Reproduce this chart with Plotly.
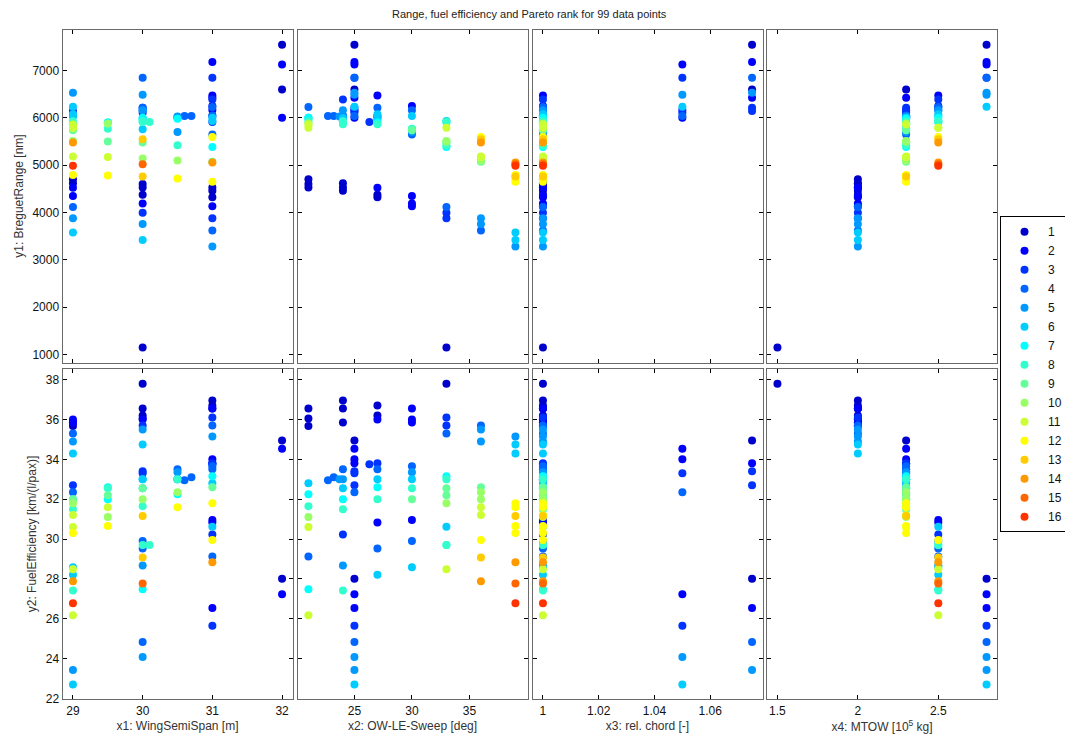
import plotly.graph_objects as go

TITLE = "Range, fuel efficiency and Pareto rank for 99 data points"
X_TITLES = ["x1: WingSemiSpan [m]", "x2: OW-LE-Sweep [deg]", "x3: rel. chord [-]",
            "x4: MTOW [10<sup>5</sup> kg]"]
Y_TITLES = ["y1: BreguetRange [nm]", "y2: FuelEfficiency [km/(l/pax)]"]
X_TICKS = [[29, 30, 31, 32], [25, 30, 35], [1, 1.02, 1.04, 1.06], [1.5, 2, 2.5]]
X_TICKTEXT = [["29", "30", "31", "32"], ["25", "30", "35"], ["1", "1.02", "1.04", "1.06"],
              ["1.5", "2", "2.5"]]
Y1_TICKS = [1000, 2000, 3000, 4000, 5000, 6000, 7000]
Y2_TICKS = [22, 24, 26, 28, 30, 32, 34, 36, 38]
RANKS = list(range(1, 17))
RANK_COLORS = ["#0000cc", "#0000ff", "#0033ff", "#0066ff", "#0099ff", "#00ccff",
               "#00ffff", "#33ffcc", "#66ff99", "#99ff66", "#ccff33", "#ffff00",
               "#ffcc00", "#ff9900", "#ff6600", "#ff3300"]

X2_LEVELS = [21, 24, 27, 30, 33, 36, 39]

# group A: single light design
A_X1, A_X2, A_X3, A_X4 = [30], [33], [1.0], [1.5]
A_Y1, A_Y2, A_RANK = [1147], [37.8], [1]

# group B: MTOW 2.0, rel. chord 1 ; rows = X2_LEVELS, cols = B_X1
B_X1 = [29, 30, 31]
B_Y1 = [[4700, 4600, 4530], [4620, 4530, 4460], [4520, 4375, 4320], [4350, 4190, 4130],
        [4115, 3996, 3877], [3877, 3758, 3617], [3575, 3420, 3280]]
B_Y2 = [[35.67, 36.05, 36.55], [35.85, 36.55, 36.95], [36.0, 36.2, 36.7], [35.85, 36.0, 36.55],
        [35.3, 35.7, 36.1], [34.9, 35.5, 35.7], [34.3, 34.75, 35.15]]
B_RANK = [[1, 1, 1], [1, 1, 1], [2, 1, 1], [2, 2, 2], [4, 3, 3], [5, 5, 4], [6, 6, 5]]

# groups C (MTOW 2.8) and D (MTOW 2.3): sweep 25, rel. chord > 1
CD_X1 = [32, 32, 31, 31, 30, 30, 29, 29]
CD_X3 = [1.075, 1.05, 1.075, 1.05, 1.075, 1.05, 1.075, 1.05]
C_Y1 = [7547, 7126, 7182, 6846, 6846, 6488, 6530, 6235]
C_Y2 = [28.0, 27.23, 26.53, 25.65, 24.83, 24.08, 23.42, 22.7]
C_RANK = [1, 2, 2, 3, 4, 5, 5, 6]
D_Y1 = [6600, 6004, 6425, 6165, 6214, 6109, 6144, 6039]
D_Y2 = [34.95, 34.53, 33.8, 34.0, 33.4, 33.3, 32.7, 32.35]
D_RANK = [1, 2, 2, 2, 3, 3, 3, 4]

# group E: MTOW 2.3, rel. chord 1 ; rows = X2_LEVELS, cols = E_X1
E_X1 = [29, 29.5, 30, 30.5, 31]
E_Y1 = [[5860, 5880, 5930, 5980, 6000], [5863, 5900, 5990, 6010, 6050],
        [5863, 5900, 5960, 6000, 6040], [5740, 5770, 5760, 5700, 5650],
        [5512, 5500, 5480, 5420, 5386], [5182, 5170, 5140, 5100, 5070],
        [4790, 4780, 4760, 4720, 4650]]
E_Y2 = [[30.6, 31.1, 31.65, 32.25, 32.8], [31.5, 32.0, 32.55, 33.0, 33.5],
        [32.0, 32.6, 33.0, 33.5, 33.8], [32.0, 32.55, 33.0, 33.35, 33.65],
        [31.8, 32.2, 32.55, 33.0, 33.15], [31.2, 31.6, 32.0, 32.35, 32.6],
        [30.3, 30.65, 31.15, 31.6, 31.8]]
E_RANK = [[11, 10, 8, 7, 6], [8, 7, 6, 5, 4], [8, 7, 6, 4, 3], [9, 8, 6, 5, 4],
          [10, 9, 9, 8, 7], [11, 11, 10, 10, 9], [12, 12, 13, 12, 12]]

# group F: MTOW 2.5, rel. chord 1 ; rows = X2_LEVELS, cols = F_X1
F_X1 = [29, 30, 31]
F_Y1 = [[5793, 6004, 6228], [5930, 6158, 6390], [6074, 6214, 6470], [6040, 6160, 6250],
        [5793, 5912, 5933], [5477, 5550, 5596], [4986, 5020, 5056]]
F_Y2 = [[26.17, 27.48, 29.12], [27.42, 28.67, 30.23], [28.2, 29.52, 30.83], [28.58, 29.9, 30.95],
        [28.48, 29.7, 30.62], [27.88, 29.07, 29.95], [26.78, 27.77, 28.83]]
F_RANK = [[11, 7, 4], [8, 5, 3], [6, 4, 2], [6, 4, 2], [11, 8, 6], [14, 13, 12], [16, 15, 14]]

# group G: off-grid designs
G_X1 = [30.1, 30.6, 30.7, 30.5, 31.0]
G_X2 = [33, 22.7, 23.2, 23.7, 26.3]
G_X3 = [1.0, 1.0, 1.0, 1.0, 1.0]
G_X4 = [2.5, 2.3, 2.3, 2.3, 2.3]
G_Y1 = [5912, 6040, 6040, 6030, 5912]
G_Y2 = [29.7, 32.95, 33.1, 33.0, 33.75]
G_RANK = [8, 4, 4, 5, 3]

# ---- assemble the 99 designs ----
x1, x2, x3, x4, y1, y2, rank = [], [], [], [], [], [], []


def add(a, b, c, d, e, f, r):
    x1.append(a); x2.append(b); x3.append(c); x4.append(d)
    y1.append(e); y2.append(f); rank.append(r)


for i in range(len(A_X1)):
    add(A_X1[i], A_X2[i], A_X3[i], A_X4[i], A_Y1[i], A_Y2[i], A_RANK[i])
for i, sw in enumerate(X2_LEVELS):
    for j, span in enumerate(B_X1):
        add(span, sw, 1.0, 2.0, B_Y1[i][j], B_Y2[i][j], B_RANK[i][j])
for i in range(len(CD_X1)):
    add(CD_X1[i], 25, CD_X3[i], 2.8, C_Y1[i], C_Y2[i], C_RANK[i])
for i in range(len(CD_X1)):
    add(CD_X1[i], 25, CD_X3[i], 2.3, D_Y1[i], D_Y2[i], D_RANK[i])
for i, sw in enumerate(X2_LEVELS):
    for j, span in enumerate(E_X1):
        add(span, sw, 1.0, 2.3, E_Y1[i][j], E_Y2[i][j], E_RANK[i][j])
for i, sw in enumerate(X2_LEVELS):
    for j, span in enumerate(F_X1):
        add(span, sw, 1.0, 2.5, F_Y1[i][j], F_Y2[i][j], F_RANK[i][j])
for i in range(len(G_X1)):
    add(G_X1[i], G_X2[i], G_X3[i], G_X4[i], G_Y1[i], G_Y2[i], G_RANK[i])

XS = [x1, x2, x3, x4]
YS = [y1, y2]
X_RANGES = [[28.85, 32.15], [20.05, 40.05], [0.99625, 1.07875], [1.435, 2.865]]
Y_RANGES = [[827, 7867], [21.95, 38.55]]

# page has an 8px body margin: the figure is drawn 8px right/down of the window corner
OFF = 8
W, H = 1073 - OFF, 744 - OFF
COL_PX = [(62.5, 292.5), (297.5, 527.5), (532.5, 762.5), (767.0, 997.0)]
ROW_PX = [(29.7, 365.5), (371.7, 705.0)]


def px_x(X):
    return (X - OFF) / W


def px_y(Y):
    return 1 - (Y - OFF) / H


FONT = "Liberation Sans, Arial, sans-serif"
fig = go.Figure()

for row in range(2):
    for col in range(4):
        k = row * 4 + col + 1
        xa = "x" if k == 1 else f"x{k}"
        ya = "y" if k == 1 else f"y{k}"
        for r, colr in zip(RANKS, RANK_COLORS):
            idx = [i for i in range(len(rank)) if rank[i] == r]
            fig.add_trace(go.Scatter(
                x=[XS[col][i] for i in idx], y=[YS[row][i] for i in idx],
                mode="markers", xaxis=xa, yaxis=ya,
                marker=dict(size=8, color=colr, line=dict(width=0)),
                name=str(r), legendgroup=str(r), showlegend=(k == 1),
                hoverinfo="skip"))
        xkey = "xaxis" if k == 1 else f"xaxis{k}"
        ykey = "yaxis" if k == 1 else f"yaxis{k}"
        xax = dict(
            domain=[px_x(COL_PX[col][0]), px_x(COL_PX[col][1])],
            range=X_RANGES[col], anchor=ya,
            tickvals=X_TICKS[col], ticktext=X_TICKTEXT[col],
            showticklabels=(row == 1), ticks="inside", ticklen=4, tickcolor="#000",
            showline=True, linecolor="#6a6a6a", linewidth=1, mirror="ticks",
            showgrid=False, zeroline=False,
            tickfont=dict(family=FONT, size=12, color="#111"))
        if row == 1:
            xax["title"] = dict(text=X_TITLES[col], standoff=4,
                                font=dict(family=FONT, size=12, color="#333"))
        yax = dict(
            domain=[px_y(ROW_PX[row][1]), px_y(ROW_PX[row][0])],
            range=Y_RANGES[row], anchor=xa,
            tickvals=Y1_TICKS if row == 0 else Y2_TICKS,
            showticklabels=(col == 0), ticks="inside", ticklen=4, tickcolor="#000",
            showline=True, linecolor="#6a6a6a", linewidth=1, mirror="ticks",
            showgrid=False, zeroline=False,
            tickfont=dict(family=FONT, size=12, color="#111"))
        if col == 0:
            yax["title"] = dict(text=Y_TITLES[row], standoff=6,
                                font=dict(family=FONT, size=12, color="#333"))
        fig.layout[xkey] = xax
        fig.layout[ykey] = yax

fig.add_annotation(text=TITLE, x=px_x(529.5), y=px_y(14), xref="paper", yref="paper",
                   showarrow=False, xanchor="center", yanchor="middle",
                   font=dict(family=FONT, size=11, color="#222"))

fig.update_layout(
    width=W, height=H, margin=dict(l=0, r=0, t=0, b=0),
    paper_bgcolor="white", plot_bgcolor="white",
    showlegend=True,
    legend=dict(x=px_x(1000), y=px_y(218), xanchor="left", yanchor="top",
                bordercolor="#000", borderwidth=1, bgcolor="white",
                tracegroupgap=0, itemwidth=37,
                font=dict(family=FONT, size=12, color="#111"),
                itemclick=False, itemdoubleclick=False),
)

fig.write_html("out.html")
